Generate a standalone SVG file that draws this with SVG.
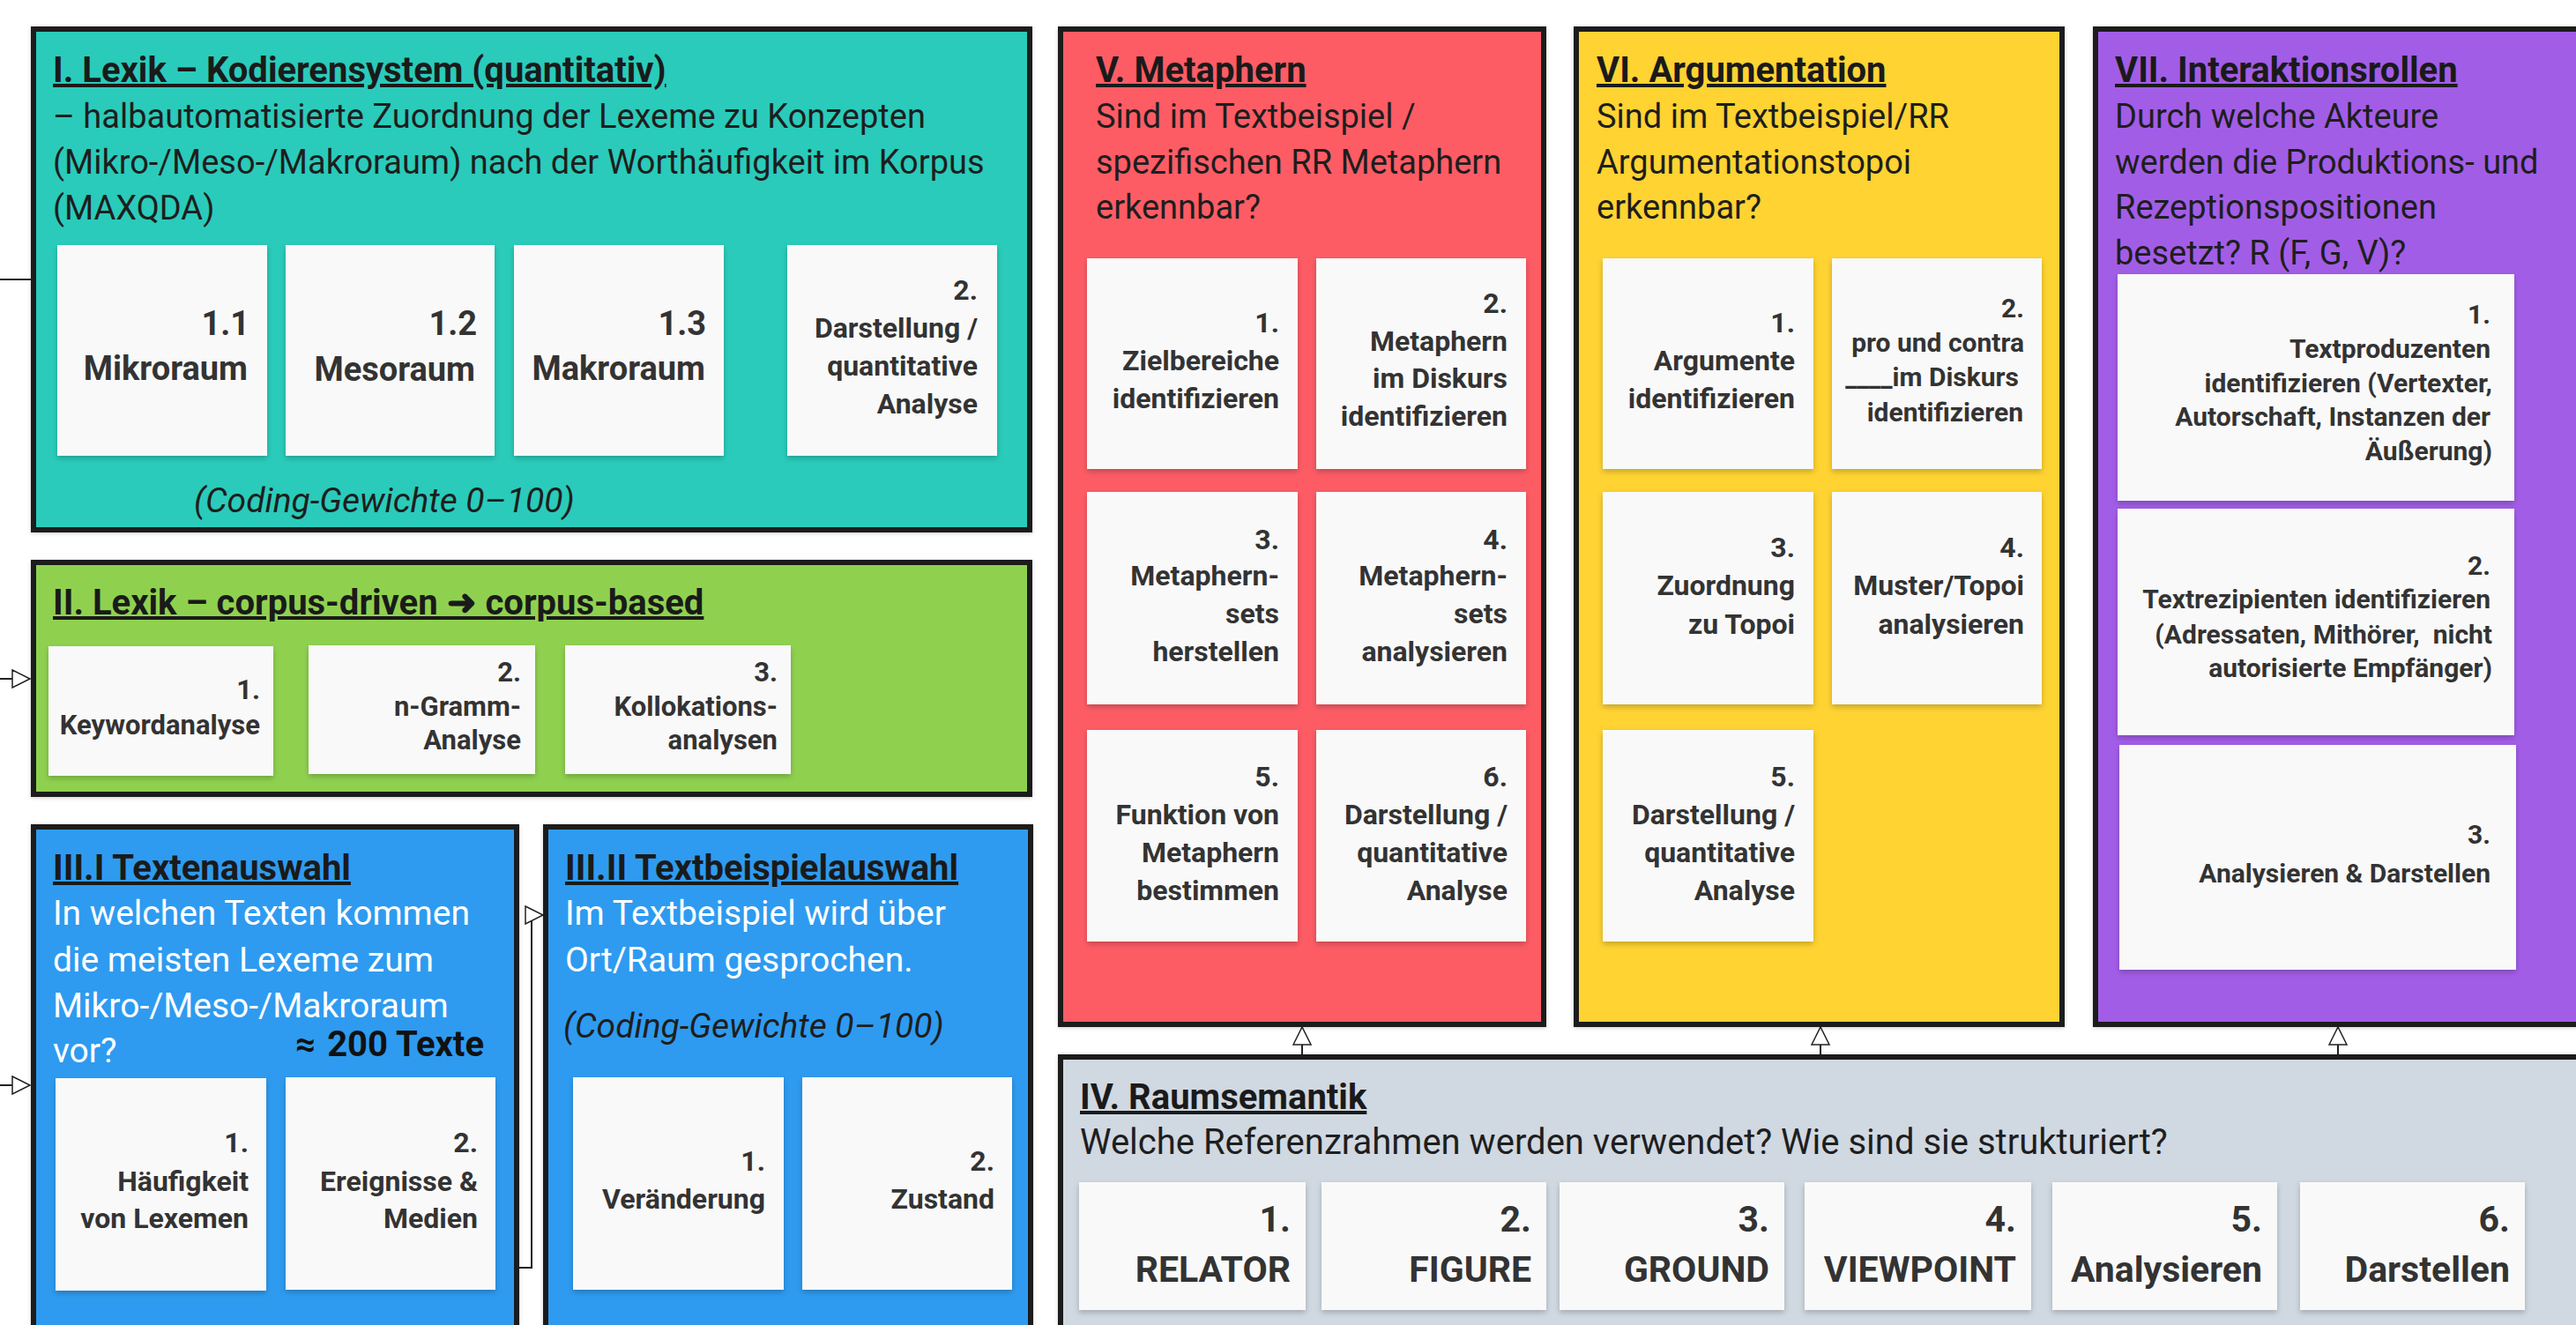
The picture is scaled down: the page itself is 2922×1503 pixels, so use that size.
<svg xmlns="http://www.w3.org/2000/svg" width="2922" height="1503" viewBox="0 0 2922 1503">
  <defs>
    <style>
      .box { stroke: #1c1c1c; stroke-width: 6; filter: url(#boxShadow); }
      .card { fill: #f9f9f9; filter: url(#cardShadow); }
      .title { font-family: Roboto, "Liberation Sans", sans-serif; font-weight: 700; font-size: 40px; fill: #1a1a1a; text-decoration: underline; }
      .body { font-family: Roboto, "Liberation Sans", sans-serif; font-size: 38px; fill: #1e1e1e; }
      .white { fill: #ffffff; }
      .italic { font-style: italic; font-size: 39px; }
      .lbl { font-family: Roboto, "Liberation Sans", sans-serif; font-weight: 700; fill: #333333; text-anchor: end; }
      .s30 { font-size: 30px; }
      .s31 { font-size: 31px; }
      .s32 { font-size: 32px; }
      .s38 { font-size: 38px; }
      .s41 { font-size: 41px; }
      .conn { stroke: #222222; stroke-width: 2; fill: none; }
    </style>
    <filter id="cardShadow" x="-10%" y="-10%" width="120%" height="130%">
      <feDropShadow dx="0" dy="3" stdDeviation="3" flood-color="#000" flood-opacity="0.22"/>
    </filter>
    <filter id="boxShadow" x="-5%" y="-5%" width="110%" height="110%">
      <feDropShadow dx="0" dy="1" stdDeviation="2" flood-color="#000" flood-opacity="0.2"/>
    </filter>
    <marker id="hollow" markerUnits="userSpaceOnUse" markerWidth="24" markerHeight="24" viewBox="0 0 24 24" refX="21" refY="12" orient="auto">
      <path d="M1,2 L21,12 L1,22 Z" fill="#ffffff" stroke="#222222" stroke-width="1.5"/>
    </marker>
  </defs>

  <rect x="0" y="0" width="2922" height="1503" fill="#ffffff"/>

  <!-- connectors -->
  <g id="connectors">
    <path class="conn" d="M0,317 H35"/>
    <path class="conn" d="M0,770 H34" marker-end="url(#hollow)"/>
    <path class="conn" d="M0,1231 H34" marker-end="url(#hollow)"/>
    <path class="conn" d="M589,1438 H603 V1038 H616" marker-end="url(#hollow)"/>
    <path class="conn" d="M1477,1197 V1165" marker-end="url(#hollow)"/>
    <path class="conn" d="M2065,1197 V1165" marker-end="url(#hollow)"/>
    <path class="conn" d="M2652,1197 V1165" marker-end="url(#hollow)"/>
  </g>

  <!-- I. Lexik – Kodierensystem -->
  <g id="lexik-kodierensystem">
    <rect class="box" x="38" y="33" width="1130" height="568" fill="#2bcbba"/>
    <text class="title" x="60" y="93">I. Lexik – Kodierensystem (quantitativ)</text>
    <text class="body" x="60" y="145">– halbautomatisierte Zuordnung der Lexeme zu Konzepten</text>
    <text class="body" x="60" y="197">(Mikro-/Meso-/Makroraum) nach der Worthäufigkeit im Korpus</text>
    <text class="body" x="60" y="249">(MAXQDA)</text>
    <rect class="card" x="65" y="278" width="238" height="239"/>
    <rect class="card" x="324" y="278" width="237" height="239"/>
    <rect class="card" x="583" y="278" width="238" height="239"/>
    <rect class="card" x="893" y="278" width="238" height="239"/>
    <text class="lbl s38" x="283" y="380">1.1</text>
    <text class="lbl s38" x="281" y="431">Mikroraum</text>
    <text class="lbl s38" x="541" y="380">1.2</text>
    <text class="lbl s38" x="539" y="432">Mesoraum</text>
    <text class="lbl s38" x="801" y="380">1.3</text>
    <text class="lbl s38" x="800" y="431">Makroraum</text>
    <text class="lbl s32" x="1109" y="340">2.</text>
    <text class="lbl s32" x="1109" y="383">Darstellung /</text>
    <text class="lbl s32" x="1109" y="426">quantitative</text>
    <text class="lbl s32" x="1109" y="469">Analyse</text>
    <text class="body italic" x="220" y="581">(Coding-Gewichte 0–100)</text>
  </g>

  <!-- II. Lexik – corpus-driven ➜ corpus-based -->
  <g id="lexik-corpus">
    <rect class="box" x="38" y="638" width="1130" height="263" fill="#8fd14f"/>
    <text class="title" x="60" y="697">II. Lexik – corpus-driven ➜ corpus-based</text>
    <rect class="card" x="55" y="733" width="255" height="147"/>
    <rect class="card" x="350" y="732" width="257" height="146"/>
    <rect class="card" x="641" y="732" width="256" height="146"/>
    <text class="lbl s31" x="295" y="793">1.</text>
    <text class="lbl s31" x="295" y="833">Keywordanalyse</text>
    <text class="lbl s31" x="591" y="773">2.</text>
    <text class="lbl s31" x="591" y="812">n-Gramm-</text>
    <text class="lbl s31" x="591" y="850">Analyse</text>
    <text class="lbl s31" x="882" y="773">3.</text>
    <text class="lbl s31" x="882" y="812">Kollokations-</text>
    <text class="lbl s31" x="882" y="850">analysen</text>
  </g>

  <!-- III.I Textenauswahl -->
  <g id="textenauswahl">
    <rect class="box" x="38" y="938" width="548" height="620" fill="#2d9bf0"/>
    <text class="title" x="60" y="998">III.I Textenauswahl</text>
    <text class="body white" style="font-size:39px" x="60" y="1049">In welchen Texten kommen</text>
    <text class="body white" style="font-size:39px" x="60" y="1102">die meisten Lexeme zum</text>
    <text class="body white" style="font-size:39px" x="60" y="1154">Mikro-/Meso-/Makroraum</text>
    <text class="body white" style="font-size:39px" x="60" y="1205">vor?</text>
    <text class="lbl" style="font-size:40px;fill:#111;text-anchor:start" x="335" y="1198">≈</text>
    <text class="lbl" style="font-size:40px;fill:#111" x="549" y="1198">200 Texte</text>
    <rect class="card" x="63" y="1223" width="239" height="241"/>
    <rect class="card" x="324" y="1222" width="238" height="241"/>
    <text class="lbl s32" x="282" y="1307">1.</text>
    <text class="lbl s32" x="282" y="1351">Häufigkeit</text>
    <text class="lbl s32" x="282" y="1393">von Lexemen</text>
    <text class="lbl s32" x="542" y="1307">2.</text>
    <text class="lbl s32" x="542" y="1351">Ereignisse &amp;</text>
    <text class="lbl s32" x="542" y="1393">Medien</text>
  </g>

  <!-- III.II Textbeispielauswahl -->
  <g id="textbeispielauswahl">
    <rect class="box" x="619" y="938" width="550" height="620" fill="#2d9bf0"/>
    <text class="title" x="641" y="998">III.II Textbeispielauswahl</text>
    <text class="body white" style="font-size:39px" x="641" y="1049">Im Textbeispiel wird über</text>
    <text class="body white" style="font-size:39px" x="641" y="1102">Ort/Raum gesprochen.</text>
    <text class="body italic" x="639" y="1177">(Coding-Gewichte 0–100)</text>
    <rect class="card" x="650" y="1222" width="239" height="241"/>
    <rect class="card" x="910" y="1222" width="238" height="241"/>
    <text class="lbl s32" x="868" y="1328">1.</text>
    <text class="lbl s32" x="868" y="1371">Veränderung</text>
    <text class="lbl s32" x="1128" y="1328">2.</text>
    <text class="lbl s32" x="1128" y="1371">Zustand</text>
  </g>

  <!-- V. Metaphern -->
  <g id="metaphern">
    <rect class="box" x="1203" y="33" width="548" height="1129" fill="#fd5c65"/>
    <text class="title" x="1243" y="93">V. Metaphern</text>
    <text class="body" x="1243" y="145">Sind im Textbeispiel /</text>
    <text class="body" x="1243" y="197">spezifischen RR Metaphern</text>
    <text class="body" x="1243" y="248">erkennbar?</text>
    <rect class="card" x="1233" y="293" width="239" height="239"/>
    <rect class="card" x="1493" y="293" width="238" height="239"/>
    <rect class="card" x="1233" y="558" width="239" height="241"/>
    <rect class="card" x="1493" y="558" width="238" height="241"/>
    <rect class="card" x="1233" y="828" width="239" height="240"/>
    <rect class="card" x="1493" y="828" width="238" height="240"/>
    <text class="lbl s32" x="1451" y="377">1.</text>
    <text class="lbl s32" x="1451" y="420">Zielbereiche</text>
    <text class="lbl s32" x="1451" y="463">identifizieren</text>
    <text class="lbl s32" x="1710" y="355">2.</text>
    <text class="lbl s32" x="1710" y="398">Metaphern</text>
    <text class="lbl s32" x="1710" y="440">im Diskurs</text>
    <text class="lbl s32" x="1710" y="483">identifizieren</text>
    <text class="lbl s32" x="1451" y="623">3.</text>
    <text class="lbl s32" x="1451" y="664">Metaphern-</text>
    <text class="lbl s32" x="1451" y="707">sets</text>
    <text class="lbl s32" x="1451" y="750">herstellen</text>
    <text class="lbl s32" x="1710" y="623">4.</text>
    <text class="lbl s32" x="1710" y="664">Metaphern-</text>
    <text class="lbl s32" x="1710" y="707">sets</text>
    <text class="lbl s32" x="1710" y="750">analysieren</text>
    <text class="lbl s32" x="1451" y="892">5.</text>
    <text class="lbl s32" x="1451" y="935">Funktion von</text>
    <text class="lbl s32" x="1451" y="978">Metaphern</text>
    <text class="lbl s32" x="1451" y="1021">bestimmen</text>
    <text class="lbl s32" x="1710" y="892">6.</text>
    <text class="lbl s32" x="1710" y="935">Darstellung /</text>
    <text class="lbl s32" x="1710" y="978">quantitative</text>
    <text class="lbl s32" x="1710" y="1021">Analyse</text>
  </g>

  <!-- VI. Argumentation -->
  <g id="argumentation">
    <rect class="box" x="1788" y="33" width="551" height="1129" fill="#fed330"/>
    <text class="title" x="1811" y="93">VI. Argumentation</text>
    <text class="body" x="1811" y="145">Sind im Textbeispiel/RR</text>
    <text class="body" x="1811" y="197">Argumentationstopoi</text>
    <text class="body" x="1811" y="248">erkennbar?</text>
    <rect class="card" x="1818" y="293" width="239" height="239"/>
    <rect class="card" x="2078" y="293" width="238" height="239"/>
    <rect class="card" x="1818" y="558" width="239" height="241"/>
    <rect class="card" x="2078" y="558" width="238" height="241"/>
    <rect class="card" x="1818" y="828" width="239" height="240"/>
    <text class="lbl s32" x="2036" y="377">1.</text>
    <text class="lbl s32" x="2036" y="420">Argumente</text>
    <text class="lbl s32" x="2036" y="463">identifizieren</text>
    <text class="lbl s30" x="2296" y="360">2.</text>
    <text class="lbl s30" x="2296" y="399">pro und contra</text>
    <text class="lbl s30" x="2290" y="438">____im Diskurs</text>
    <text class="lbl s30" x="2295" y="478">identifizieren</text>
    <text class="lbl s32" x="2036" y="632">3.</text>
    <text class="lbl s32" x="2036" y="675">Zuordnung</text>
    <text class="lbl s32" x="2036" y="719">zu Topoi</text>
    <text class="lbl s32" x="2296" y="632">4.</text>
    <text class="lbl s32" x="2296" y="675">Muster/Topoi</text>
    <text class="lbl s32" x="2296" y="719">analysieren</text>
    <text class="lbl s32" x="2036" y="892">5.</text>
    <text class="lbl s32" x="2036" y="935">Darstellung /</text>
    <text class="lbl s32" x="2036" y="978">quantitative</text>
    <text class="lbl s32" x="2036" y="1021">Analyse</text>
  </g>

  <!-- VII. Interaktionsrollen -->
  <g id="interaktionsrollen">
    <rect class="box" x="2377" y="33" width="620" height="1129" fill="#a25de7"/>
    <text class="title" x="2399" y="93">VII. Interaktionsrollen</text>
    <text class="body" x="2399" y="145">Durch welche Akteure</text>
    <text class="body" x="2399" y="197">werden die Produktions- und</text>
    <text class="body" x="2399" y="248">Rezeptionspositionen</text>
    <text class="body" x="2399" y="300">besetzt? R (F, G, V)?</text>
    <rect class="card" x="2402" y="311" width="450" height="257"/>
    <rect class="card" x="2402" y="577" width="450" height="257"/>
    <rect class="card" x="2404" y="845" width="450" height="255"/>
    <text class="lbl s30" x="2825" y="367">1.</text>
    <text class="lbl s30" x="2825" y="406">Textproduzenten</text>
    <text class="lbl s30" x="2827" y="445">identifizieren (Vertexter,</text>
    <text class="lbl s30" x="2825" y="483">Autorschaft, Instanzen der</text>
    <text class="lbl s30" x="2827" y="522">Äußerung)</text>
    <text class="lbl s30" x="2825" y="652">2.</text>
    <text class="lbl s30" x="2825" y="690">Textrezipienten identifizieren</text>
    <text class="lbl s30" x="2827" y="730" xml:space="preserve">(Adressaten, Mithörer,  nicht</text>
    <text class="lbl s30" x="2827" y="768">autorisierte Empfänger)</text>
    <text class="lbl s30" x="2825" y="957">3.</text>
    <text class="lbl s30" x="2825" y="1001">Analysieren &amp; Darstellen</text>
  </g>

  <!-- IV. Raumsemantik -->
  <g id="raumsemantik">
    <rect class="box" x="1203" y="1199" width="1760" height="400" fill="#d0d8e1"/>
    <text class="title" x="1225" y="1258">IV. Raumsemantik</text>
    <text class="body" style="font-size:40px" x="1225" y="1309">Welche Referenzrahmen werden verwendet? Wie sind sie strukturiert?</text>
    <rect class="card" x="1224" y="1341" width="257" height="145"/>
    <rect class="card" x="1499" y="1341" width="255" height="145"/>
    <rect class="card" x="1769" y="1341" width="255" height="145"/>
    <rect class="card" x="2047" y="1341" width="257" height="145"/>
    <rect class="card" x="2328" y="1341" width="255" height="145"/>
    <rect class="card" x="2609" y="1341" width="255" height="145"/>
    <text class="lbl s41" x="1464" y="1397">1.</text>
    <text class="lbl s41" x="1464" y="1454">RELATOR</text>
    <text class="lbl s41" x="1737" y="1397">2.</text>
    <text class="lbl s41" x="1737" y="1454">FIGURE</text>
    <text class="lbl s41" x="2007" y="1397">3.</text>
    <text class="lbl s41" x="2007" y="1454">GROUND</text>
    <text class="lbl s41" x="2287" y="1397">4.</text>
    <text class="lbl s41" x="2287" y="1454">VIEWPOINT</text>
    <text class="lbl s41" x="2566" y="1397">5.</text>
    <text class="lbl s41" x="2566" y="1454">Analysieren</text>
    <text class="lbl s41" x="2847" y="1397">6.</text>
    <text class="lbl s41" x="2847" y="1454">Darstellen</text>
  </g>
</svg>
